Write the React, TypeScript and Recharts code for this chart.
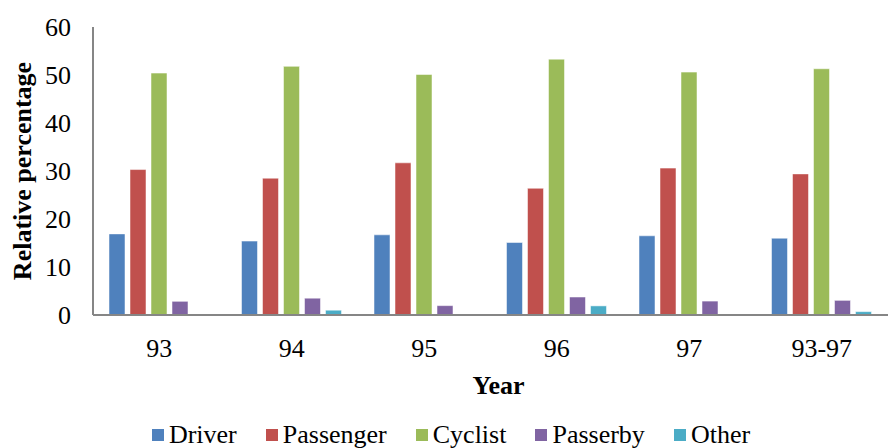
import { BarChart, Bar, XAxis, YAxis, Legend } from "recharts";

const years = ["93", "94", "95", "96", "97", "93-97"];
const driver = [16.9, 15.4, 16.7, 15.1, 16.5, 16.0];
const passenger = [30.3, 28.5, 31.7, 26.4, 30.6, 29.4];
const cyclist = [50.4, 51.8, 50.1, 53.3, 50.6, 51.3];
const passerby = [2.85, 3.5, 1.95, 3.75, 2.9, 3.05];
const other = [0, 1.0, 0, 1.9, 0, 0.7];
const yTicks = [0, 10, 20, 30, 40, 50, 60];

const SERIES = [
  { key: "Driver", color: "#4F81BD", values: driver },
  { key: "Passenger", color: "#C0504D", values: passenger },
  { key: "Cyclist", color: "#9BBB59", values: cyclist },
  { key: "Passerby", color: "#8064A2", values: passerby },
  { key: "Other", color: "#4BACC6", values: other },
];

const data = years.map((year, i) => {
  const row: Record<string, string | number> = { year };
  SERIES.forEach((s) => {
    row[s.key] = s.values[i];
  });
  return row;
});

const FONT = '"Times New Roman", "Liberation Serif", serif';

function LegendContent() {
  return (
    <div
      style={{
        display: "flex",
        justifyContent: "center",
        gap: 29,
        fontFamily: FONT,
        fontSize: 26,
        lineHeight: "26px",
        color: "#000",
        marginLeft: 14,
        paddingTop: 14,
      }}
    >
      {SERIES.map((s) => (
        <div key={s.key} style={{ display: "flex", alignItems: "center" }}>
          <span style={{ width: 12, height: 12, background: s.color, marginRight: 5, display: "inline-block" }} />
          <span>{s.key}</span>
        </div>
      ))}
    </div>
  );
}

function YLabel({ viewBox }: any) {
  const cy = viewBox.y + viewBox.height / 2;
  return (
    <text
      x={22}
      y={cy}
      transform={`rotate(-90, 22, ${cy})`}
      textAnchor="middle"
      dominantBaseline="central"
      style={{ fontFamily: FONT, fontSize: 26, fontWeight: "bold", fill: "#000" }}
    >
      Relative percentage
    </text>
  );
}

function XTick({ x, y, payload }: any) {
  return (
    <text x={x} y={y + 10} textAnchor="middle" dominantBaseline="hanging"
      style={{ fontFamily: FONT, fontSize: 26, fill: "#000" }}>
      {payload.value}
    </text>
  );
}

function YTick({ x, y, payload }: any) {
  return (
    <text x={x} y={y} textAnchor="end" dominantBaseline="central"
      style={{ fontFamily: FONT, fontSize: 26, fill: "#000" }}>
      {payload.value}
    </text>
  );
}

export default function App() {
  return (
    <div style={{ position: "absolute", left: 0, top: 0, background: "#fff" }}>
      <BarChart
        width={890}
        height={448}
        data={data}
        margin={{ top: 27, right: 2, left: 0, bottom: 0 }}
        barSize={16}
        barGap={5}
        barCategoryGap="13%"
      >
        <XAxis
          dataKey="year"
          height={93}
          axisLine={{ stroke: "#868686", strokeWidth: 2 }}
          tickLine={false}
          tickSize={0}
          tickMargin={14}
          tick={<XTick />}
          label={{
            value: "Year",
            position: "insideBottom",
            offset: 14,
            dx: 8,
            style: { fontFamily: FONT, fontSize: 26, fontWeight: "bold", fill: "#000" },
          }}
        />
        <YAxis
          width={93}
          domain={[0, 60]}
          ticks={yTicks}
          interval={0}
          axisLine={{ stroke: "#868686", strokeWidth: 2 }}
          tickLine={false}
          tickSize={0}
          tickMargin={22}
          tick={<YTick />}
          label={<YLabel />}
        />
        <Legend verticalAlign="bottom" height={40} content={<LegendContent />} />
        {SERIES.map((s) => (
          <Bar
            key={s.key}
            dataKey={s.key}
            fill={s.color}
            stroke="#ffffff"
            strokeOpacity={0.5}
            strokeWidth={1}
            isAnimationActive={false}
          />
        ))}
      </BarChart>
    </div>
  );
}
